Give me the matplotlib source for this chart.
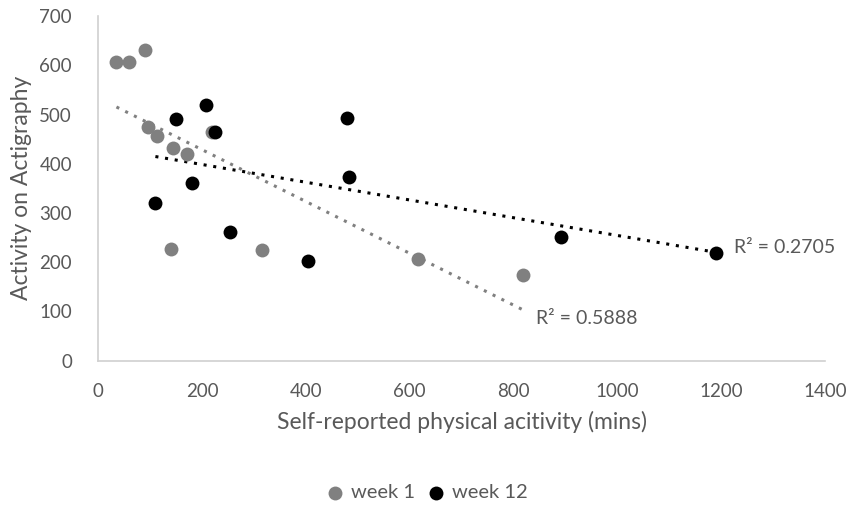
import numpy as np
from matplotlib import pyplot as plt

# week 1 points (self-reported mins, actigraphy activity)
week1_x = [35, 60, 90, 96, 114, 144, 170, 219, 140, 315, 615, 819]
week1_y = [606, 607, 632, 474, 456, 432, 420, 464, 227, 225, 206, 174]

# week 12 points
week12_x = [149, 208, 224, 479, 482, 180, 110, 254, 404, 891, 1190]
week12_y = [491, 519, 464, 493, 374, 361, 320, 261, 202, 252, 219]

r2_labels = ["R² = 0.5888", "R² = 0.2705"]

gray = "#808080"
text_c = "#595959"
axis_c = "#d0d0d0"
plt.rcParams['font.family'] = ['Lato', 'DejaVu Sans']

fig = plt.figure(figsize=(8.51, 5.05), dpi=100)
ax = fig.add_axes([0.1155, 0.286, 0.854, 0.682])

ax.scatter(week1_x, week1_y, s=100, color=gray, label="week 1", zorder=3, linewidths=0)
ax.scatter(week12_x, week12_y, s=100, color="black", label="week 12", zorder=4, linewidths=0)

# linear trendlines, drawn over the range of each series
for xs, ys, col in [(week1_x, week1_y, gray), (week12_x, week12_y, "black")]:
    m, b = np.polyfit(xs, ys, 1)
    xx = np.array([min(xs), max(xs)])
    ax.plot(xx, m * xx + b, color=col, linestyle=(0, (1, 2.2)), linewidth=2.2, zorder=2)

ax.text(843, 85, r2_labels[0], color=text_c, fontsize=14, va="center")
ax.text(1224, 229, r2_labels[1], color=text_c, fontsize=14, va="center")

ax.set_xlim(0, 1400)
ax.set_ylim(0, 700)
ax.set_xticks(range(0, 1401, 200))
ax.set_yticks(range(0, 701, 100))
ax.tick_params(length=0, labelsize=13.5, colors=text_c)
ax.tick_params(axis="x", pad=16)
ax.tick_params(axis="y", pad=19)
for side in ["top", "right"]:
    ax.spines[side].set_visible(False)
for side in ["left", "bottom"]:
    ax.spines[side].set_color(axis_c)
    ax.spines[side].set_linewidth(1.2)

ax.set_xlabel("Self-reported physical acitivity (mins)", fontsize=16.5, color=text_c, labelpad=8)
ax.set_ylabel("Activity on Actigraphy", fontsize=16.5, color=text_c, labelpad=5)

leg = fig.legend(loc="center", bbox_to_anchor=(0.495, 0.024), ncol=2, frameon=False,
                 fontsize=14.5, handletextpad=-0.2, columnspacing=0.05, markerscale=1.0)
for t in leg.get_texts():
    t.set_color(text_c)

fig.savefig("out.png", dpi=100)
